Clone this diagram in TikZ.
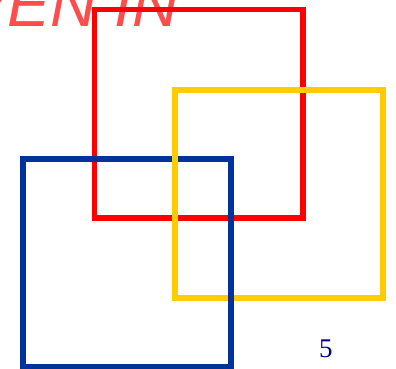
\documentclass[tikz,border=0pt]{standalone}
\usepackage{fontspec}
\setmainfont{Liberation Serif}
\newfontfamily\arialfont{Liberation Sans}
\definecolor{sqred}{RGB}{255,0,0}
\definecolor{sqblue}{RGB}{0,51,153}
\definecolor{sqyellow}{RGB}{255,204,0}
\definecolor{txtred}{RGB}{255,77,77}
\definecolor{pagenavy}{RGB}{0,0,128}
\begin{document}
\begin{tikzpicture}[x=1pt,y=-1pt,
  sq/.style={line width=5.7pt},
  titletext/.style={anchor=base west, inner sep=0pt, text=txtred, font=\arialfont\itshape\fontsize{64}{64}\selectfont},
  pagenum/.style={anchor=base west, inner sep=0pt, text=pagenavy, font=\fontsize{27}{27}\selectfont}]
\useasboundingbox (0,0) rectangle (396,368);
\clip (0,0) rectangle (396,368);
\node[titletext] (title) at (-35,26) {VEN IN};
\draw[sq, draw=sqred] (94.5,9.5) rectangle (303,218);
\draw[sq, draw=sqblue] (23,159) rectangle (231,367);
\draw[sq, draw=sqyellow] (175,90) rectangle (383,298);
\draw[sq, draw=sqblue] (231,285) -- (231,311);
\node[pagenum] (page) at (319,357) {5};
\end{tikzpicture}
\end{document}
